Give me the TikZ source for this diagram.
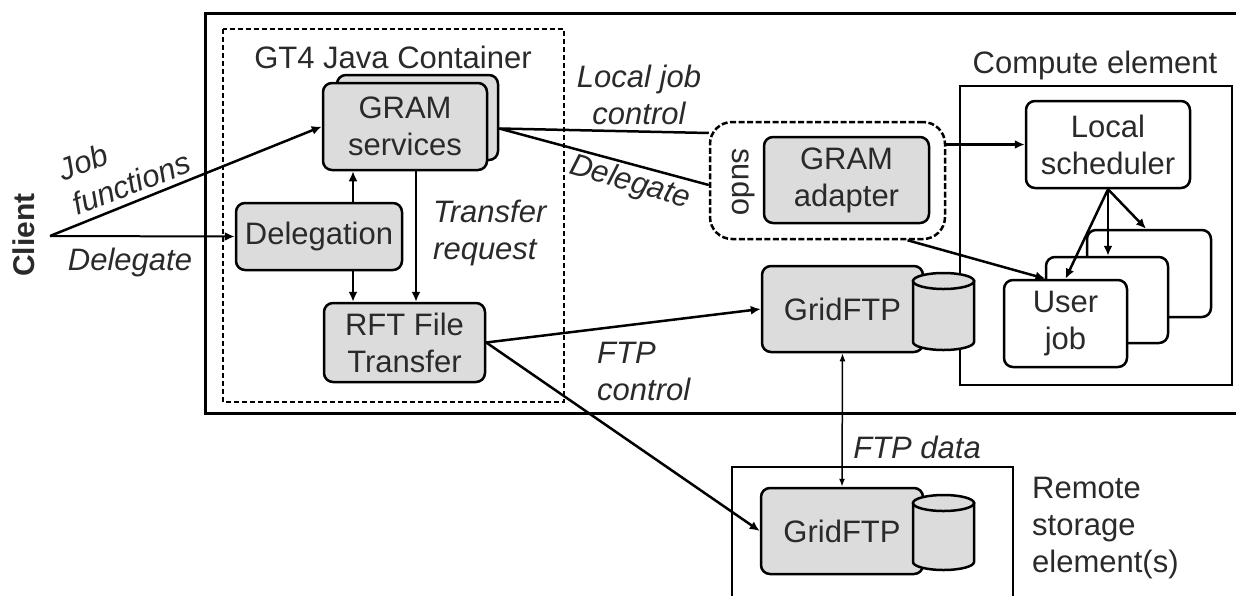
\documentclass[tikz,border=0pt]{standalone}
\usepackage{fontspec}
\setmainfont{Liberation Sans}
\usetikzlibrary{arrows.meta,calc}
\definecolor{boxgray}{HTML}{DCDCDC}
\definecolor{txt}{HTML}{2A2A2A}
\newcommand{\fsz}{\fontsize{31}{37}\selectfont}
\begin{document}
\begin{tikzpicture}[x=1pt,y=-1pt,
 every node/.style={text=txt, font=\fsz, inner sep=0pt, align=center},
 gbox/.style={draw=black, line width=2.5pt, rounded corners=9pt, fill=boxgray},
 wbox/.style={draw=black, line width=2.5pt, rounded corners=9pt, fill=white},
 conn/.style={line width=2.5pt},
 arr/.style={line width=2.5pt, -{Latex[length=10pt,width=9pt]}},
 lbl/.style={font=\fsz\itshape},
 cylfill/.style={draw=black, line width=2.5pt, fill=boxgray},
]
\useasboundingbox (0,0) rectangle (1236,595);
% frames
\draw[line width=3pt] (205,13) rectangle (1250,413);
\draw[line width=1.5pt, dash pattern=on 5pt off 3pt] (223,29) rectangle (564,402);
\draw[line width=2.5pt] (960,86) rectangle (1232,385);
\draw[line width=2.5pt] (732,467) rectangle (1013,610);
\node (gt4) at (393,57) {GT4 Java Container};
\node (celbl) at (1095,65) {Compute element};
% nodes
\node[gbox, minimum width=161pt, minimum height=85pt] (gramback) at (417.5,117.5) {};
\node[gbox, minimum width=164pt, minimum height=87pt] (gram) at (405,126.5) {GRAM\\services};
\node[gbox, minimum width=166pt, minimum height=67pt] (deleg) at (319,236.5) {Delegation};
\node[gbox, minimum width=161pt, minimum height=79pt] (rft) at (404.5,342.5) {RFT File\\Transfer};
\node[draw=black, line width=2.5pt, dash pattern=on 6pt off 2.5pt, rounded corners=22pt, minimum width=235pt, minimum height=117pt] (sudo) at (827.5,180.5) {};
\node[rotate=-90] (sudolbl) at (744,182) {sudo};
\node[gbox, minimum width=165pt, minimum height=86pt] (adapter) at (846.5,180) {GRAM\\adapter};
\node[wbox, minimum width=164pt, minimum height=87pt] (sched) at (1108,144.5) {Local\\scheduler};
\node[wbox, minimum width=124pt, minimum height=87pt] (job3) at (1149,273.5) {};
\node[wbox, minimum width=122pt, minimum height=86pt] (job2) at (1107,300) {};
\node[wbox, minimum width=123pt, minimum height=87pt] (job1) at (1065.5,323.5) {User\\job};
% GridFTP upper
\node[gbox, minimum width=161pt, minimum height=86pt] (ftp1) at (842.5,309) {GridFTP};
\filldraw[cylfill] (913,281) -- (913,342) arc[start angle=180,end angle=360,x radius=30.5pt,y radius=8pt] -- (974,281) -- cycle;
\filldraw[cylfill] (943.5,281) ellipse[x radius=30.5pt,y radius=8pt];
% GridFTP lower
\node[gbox, minimum width=162pt, minimum height=86pt] (ftp2) at (842,531) {GridFTP};
\filldraw[cylfill] (913,503) -- (913,562) arc[start angle=180,end angle=360,x radius=30.5pt,y radius=8pt] -- (974,503) -- cycle;
\filldraw[cylfill] (943.5,503) ellipse[x radius=30.5pt,y radius=8pt];
% client
\coordinate (client) at (50,236);
\node[font=\fontsize{30}{36}\selectfont\bfseries, rotate=90] (clientlbl) at (24,235) {Client};
% connectors
\draw[arr] (client) -- (gram.west);
\draw[arr, line width=2pt] (client) -- (deleg.west);
\draw[arr] ($(deleg.north)+(34,0)$) -- ($(gram.south)+(-52,0)$);
\draw[arr] ($(deleg.south)+(34,0)$) -- ($(rft.north)+(-51.5,0)$);
\draw[arr] ($(gram.south)+(11,0)$) -- ($(rft.north)+(11.5,0)$);
\coordinate (gout) at ($(gramback.east)+(0,11)$);
\draw[conn] (gout) -- ($(sudo.west)+(0,-47.5)$);
\draw[conn] (gout) -- ($(sudo.west)+(0,4.5)$);
\draw[arr] (sudo.east |- sched.west) -- (sched.west);
\draw[arr] (sched.south) -- (sched.south |- job2.north);
\draw[arr] (sched.south) -- ($(job3.north)+(-3,0)$);
\draw[arr] (sched.south) -- (job1.north);
\draw[arr] ($(sudo.south)+(80,0)$) -- ($(job1.north)+(-20,0)$);
\draw[arr] (rft.east) -- (ftp1.west);
\draw[arr] (rft.east) -- (ftp2.west);
\draw[line width=1.5pt, {Latex[length=8pt,width=6pt]}-{Latex[length=8pt,width=6pt]}] (ftp1.south) -- (ftp2.north);
% labels
\node[lbl, rotate=21, align=left] (l1) at (124.5,166) {Job\\functions};
\node[lbl] (l3) at (130,262) {Delegate};
\node[lbl, align=left, anchor=west] (l4) at (433,233) {Transfer\\request};
\node[lbl] (l5) at (639,95) {Local job\\control};
\node[lbl, rotate=-16] (l6) at (630,183) {Delegate};
\node[lbl, align=left, anchor=west] (l7) at (597,371) {FTP\\control};
\node[lbl] (l8) at (917,447) {FTP data};
\node[align=left, anchor=west] (l9) at (1032,528) {Remote\\storage\\element(s)};
\end{tikzpicture}
\end{document}
